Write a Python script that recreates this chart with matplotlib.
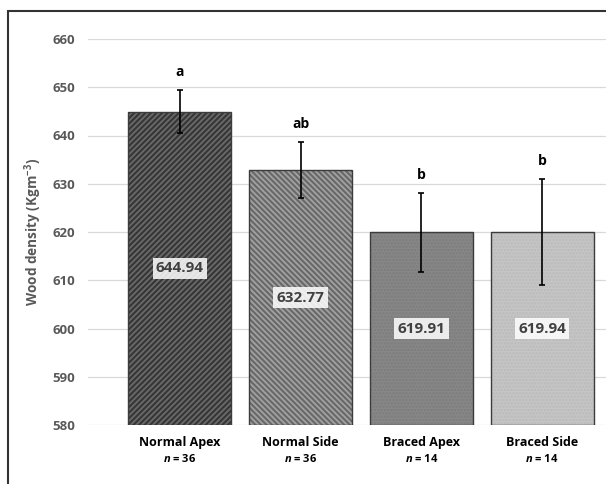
import matplotlib.pyplot as plt
from matplotlib.patches import Rectangle

categories = ['Normal Apex', 'Normal Side', 'Braced Apex', 'Braced Side']
sample_sizes = [36, 36, 14, 14]
means = [644.94, 632.77, 619.91, 619.94]
errors = [4.4, 5.8, 8.2, 11.0]
letters = ['a', 'ab', 'b', 'b']

face_colors = ['#363636', '#686868', '#888888', '#c6c6c6']
hatch_colors = ['#6a6a6a', '#a2a2a2', '#7c7c7c', '#bababa']
hatches = ['//////', '\\\\\\\\\\\\', '.....', '.....']

plt.rcParams['font.family'] = ['Open Sans', 'DejaVu Sans']
plt.rcParams['font.weight'] = 'bold'
plt.rcParams['mathtext.fontset'] = 'custom'
plt.rcParams['mathtext.rm'] = 'Open Sans:bold'
plt.rcParams['mathtext.it'] = 'Open Sans:italic:bold'
plt.rcParams['mathtext.bf'] = 'Open Sans:bold'
plt.rcParams['hatch.linewidth'] = 1.3

fig = plt.figure(figsize=(6.06, 4.84), dpi=100)
ax = fig.add_axes([88 / 606, 1 - 425 / 484, 1 - 88 / 606, (425 - 39) / 484])

x = list(range(len(categories)))
ymin = 580

# bars: hatch layer first, then outline on top
for i in x:
    ax.bar(i, means[i] - ymin, bottom=ymin, width=0.853, color=face_colors[i],
           edgecolor=hatch_colors[i], hatch=hatches[i], linewidth=0, zorder=2)
    ax.bar(i, means[i] - ymin, bottom=ymin, width=0.853, fill=False,
           edgecolor='#3c3c3c', linewidth=1.0, zorder=3)

ax.errorbar(x, means, yerr=errors, fmt='none', ecolor='black', elinewidth=1.2,
            capsize=2, capthick=1.2, zorder=4)

for i in x:
    ax.annotate(letters[i], (i, means[i] + errors[i]), xytext=(0, 13),
                textcoords='offset points', ha='center', va='center',
                fontsize=10, fontweight='bold', color='black')
    ax.text(i, (means[i] + ymin) / 2, f'{means[i]:.2f}', ha='center', va='center',
            fontsize=11, fontweight='bold', color='#404040', zorder=5,
            bbox=dict(boxstyle='square,pad=0.22', facecolor='white', edgecolor='none', alpha=0.85))

ax.set_ylim(580, 660)
ax.set_xlim(-0.762, 3.53)
ax.set_yticks(range(580, 661, 10))
ax.tick_params(axis='y', length=0, pad=9, labelsize=9.5, labelcolor='#595959')
ax.set_xticks([])
ax.grid(axis='y', color='#d9d9d9', linewidth=0.9, zorder=0)
ax.set_axisbelow(True)
for s in ax.spines.values():
    s.set_visible(False)

ax.set_ylabel('Wood density (Kgm$^{-3}$)', fontsize=9.8, fontweight='bold',
              color='#595959', labelpad=6)

trans = ax.get_xaxis_transform()
for i in x:
    ax.text(i, -0.045, categories[i], transform=trans, ha='center', va='center',
            fontsize=9, fontweight='bold', color='black')
    ax.text(i, -0.088, f'$\\mathit{{n}}$ = {sample_sizes[i]}', transform=trans,
            ha='center', va='center', fontsize=8, fontweight='bold', color='black')

# outer frame (cropped on right and bottom)
fig.patches.append(Rectangle((8 / 606, -0.05), 1.1, 1 - 10.5 / 484 + 0.05,
                             transform=fig.transFigure, fill=False,
                             edgecolor='#333333', linewidth=1.5))

fig.savefig('out.png', dpi=100)
